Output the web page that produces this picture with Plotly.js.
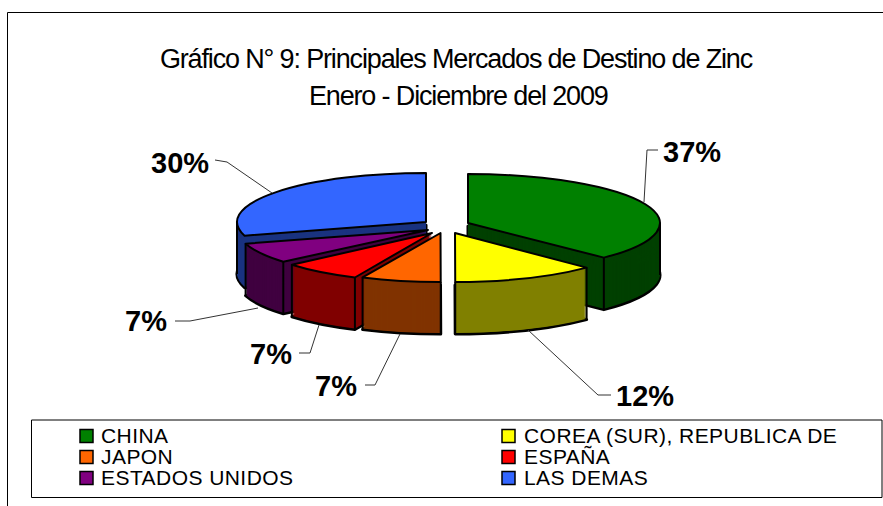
<!DOCTYPE html>
<html>
<head>
<meta charset="utf-8">
<script src="https://cdn.plot.ly/plotly-3.0.1.min.js"></script>
<style>html,body{margin:0;padding:0;background:#fff;overflow:hidden}</style>
</head>
<body>
<div id="chart" style="width:883px;height:506px"></div>
<script>
// ---- data ----
const categories = ['CHINA', 'COREA (SUR), REPUBLICA DE', 'JAPON', 'ESPAÑA', 'ESTADOS UNIDOS', 'LAS DEMAS'];
const shares = [37.49, 12.49, 6.9, 6.9, 6.7, 29.52];
const titleLine1 = 'Gráfico N° 9: Principales Mercados de Destino de Zinc';
const titleLine2 = 'Enero - Diciembre del 2009';

// ---- styles & layout ----
const W = 883, H = 506;
const topColors = ['#008000', '#FFFF00', '#FF6600', '#FF0000', '#800080', '#3366FF'];
const sideColors = ['#004000', '#808000', '#803300', '#800000', '#400040', '#1A3380'];
const apexX = [468, 455, 440.5, 432, 428, 426];
const apexY = [223, 233, 233, 233, 230, 222];
const radius = [192, 186, 186, 184, 190, 189];
const semiMinor = 49, depth = 52;
const paintOrder = [0, 1, 5, 4, 3, 2];
const font = 'Liberation Sans, Arial, sans-serif';
const X = x => x / W, Y = y => 1 - y / H;

let cum = 0;
const startAngle = shares.map(v => { const a = cum * 3.6; cum += v; return a; });
const endAngle = shares.map((v, i) => startAngle[i] + v * 3.6);

function layer(i, lineWidth, color) {
  return {
    type: 'pie', sort: false, direction: 'clockwise', rotation: startAngle[i],
    values: [shares[i], 100 - shares[i]], labels: [categories[i], 'resto'],
    marker: {colors: [color, 'rgba(0,0,0,0)'], line: {color: '#000', width: [lineWidth, 0]}},
    textinfo: 'none', hoverinfo: 'skip', showlegend: false,
    domain: {
      x: [X(apexX[i] - radius[i]), X(apexX[i] + radius[i])],
      y: [Y(apexY[i] + radius[i]), Y(apexY[i] - radius[i])]
    }
  };
}

const data = [], placement = [];
paintOrder.forEach(i => {
  for (let d = depth; d >= 1; d--) {
    data.push(layer(i, d === depth ? 3 : 0, sideColors[i]));
    placement.push({i, d});
  }
  data.push(layer(i, 2, topColors[i]));
  placement.push({i, d: 0});
});

function line(points, width, color) {
  return {
    type: 'path', xref: 'paper', yref: 'paper', layer: 'above',
    path: points.map((p, k) => (k ? 'L' : 'M') + X(p[0]) + ',' + Y(p[1])).join(' '),
    line: {color: color || '#000', width: width}
  };
}

// vertical rim edges of the drum
const rimEdges = [[0, endAngle[0]], [0, 90], [1, startAngle[1]], [1, endAngle[1]], [2, startAngle[2]], [2, endAngle[2]],
                  [3, startAngle[3]], [3, endAngle[3]], [4, startAngle[4]], [4, endAngle[4]], [5, 270]];
const shapes = rimEdges.map(([i, deg]) => {
  const t = deg * Math.PI / 180;
  const x = apexX[i] + radius[i] * Math.sin(t), y = apexY[i] - semiMinor * Math.cos(t);
  return line([[x, y], [x, y + depth]], 2);
});

// frame and legend box
shapes.push(line([[7.5, 506], [7.5, 12.5], [883, 12.5]], 1));
shapes.push(line([[31.5, 420], [882, 420], [882, 497.5], [31.5, 497.5], [31.5, 420]], 1));

// leader lines, one per label, same order as categories
const leaders = [
  [[658, 150], [647, 150], [644, 202]],
  [[528, 330], [598, 395], [611, 395]],
  [[400, 334], [375, 385], [365, 385]],
  [[319, 325], [310, 353], [299, 353]],
  [[258, 308], [190, 321], [175, 321]],
  [[272, 193], [227, 162], [215, 160]]
];
leaders.forEach(p => shapes.push(line(p, 1, '#333')));

const labelPos = [[692, 152], [645, 396], [336, 386], [271, 354], [146, 321], [180, 163]];
const annotations = shares.map((v, i) => ({
  xref: 'paper', yref: 'paper', x: X(labelPos[i][0]), y: Y(labelPos[i][1]),
  text: Math.round(v) + '%', showarrow: false, xanchor: 'center', yanchor: 'middle',
  font: {family: font, size: 29, color: '#000', weight: 700}
}));

// legend
const legendX = [80, 502], legendTextGap = [18.5, 20], legendY = [436, 457, 478];
categories.forEach((c, i) => {
  const col = i % 2, row = (i - col) / 2;
  const sx = legendX[col], sy = legendY[row];
  shapes.push({type: 'rect', xref: 'paper', yref: 'paper', layer: 'above',
    x0: X(sx), x1: X(sx + 13), y0: Y(sy - 6.5), y1: Y(sy + 6.5),
    fillcolor: topColors[i], line: {color: '#000', width: 1.5}});
  annotations.push({xref: 'paper', yref: 'paper', x: X(sx + legendTextGap[col]), y: Y(sy - 1),
    text: '<span style="letter-spacing:0.44px">' + c + '</span>', showarrow: false,
    xanchor: 'left', yanchor: 'middle', font: {family: font, size: 21, color: '#000'}});
});

// second title line keeps the reference's wide leading
annotations.push({xref: 'paper', yref: 'paper', x: X(458.5), y: Y(96), text: titleLine2, showarrow: false,
  xanchor: 'center', yanchor: 'middle', font: {family: font, size: 27, color: '#000'}});

const layout = {
  width: W, height: H, margin: {l: 0, r: 0, t: 0, b: 0},
  paper_bgcolor: '#fff', showlegend: false,
  title: {text: titleLine1, x: X(456), xanchor: 'center', y: Y(59), yanchor: 'middle',
          font: {family: font, size: 27, color: '#000'}},
  shapes, annotations
};

Plotly.newPlot('chart', data, layout, {displayModeBar: false, staticPlot: true}).then(gd => {
  // tilt each pie into the ellipse of the perspective view
  gd.querySelectorAll('.pielayer .trace').forEach((g, n) => {
    const {i, d} = placement[n];
    const k = semiMinor / radius[i];
    g.setAttribute('transform', `translate(0,${apexY[i] + d}) scale(1,${k}) translate(0,${-apexY[i]})`);
    g.querySelectorAll('path').forEach(p => p.style.vectorEffect = 'non-scaling-stroke');
  });
  // the reference's title is tall and tightly set
  gd.querySelectorAll('.annotation-text, .gtitle').forEach(t => {
    if (parseFloat(t.style.fontSize) === 27) t.style.letterSpacing = '-1.15px';
  });
});
</script>
</body>
</html>
